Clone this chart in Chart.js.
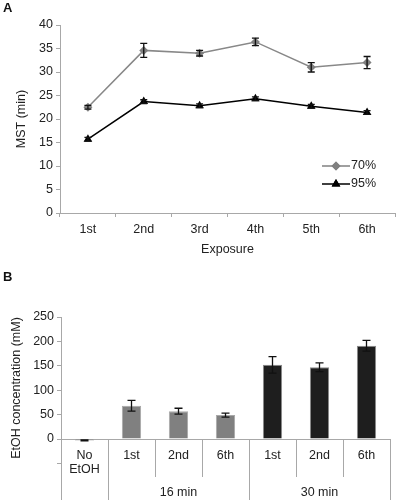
<!DOCTYPE html>
<html>
<head>
<meta charset="utf-8">
<script src="https://cdn.jsdelivr.net/npm/chart.js@4.4.0/dist/chart.umd.min.js"></script>
<style>
    html, body { margin: 0; padding: 0; background: #fff; }
    #wrapA { position: absolute; left: 0; top: 0; width: 400px; height: 260px; }
    #wrapB { position: absolute; left: 0; top: 260px; width: 400px; height: 244px; }
</style>
</head>
<body>
<div id="wrapA"><canvas id="chartA" width="400" height="260"></canvas></div>
<div id="wrapB"><canvas id="chartB" width="400" height="244"></canvas></div>
<script>
// ======================================
// DATA
// ======================================
const exposures = ["1st", "2nd", "3rd", "4th", "5th", "6th"];
const mst70 = [22.5, 34.6, 34.0, 36.4, 31.0, 32.0];
const mst70Err = [0.4, 1.5, 0.6, 0.8, 1.0, 1.3];
const mst95 = [15.7, 23.7, 22.8, 24.3, 22.7, 21.4];
const mst95Err = [0.4, 0.4, 0.4, 0.4, 0.4, 0.4];
const mstTicks = [0, 5, 10, 15, 20, 25, 30, 35, 40];

const etohLabels = [["No", "EtOH"], "1st", "2nd", "6th", "1st", "2nd", "6th"];
const etohGroups = ["16 min", "30 min"];
const etohValues = [-3, 68, 57, 49, 152, 147, 191];
const etohErr = [1, 11, 6, 4, 17, 9, 11];
const etohTicks = [0, 50, 100, 150, 200, 250];

const FONT = "Liberation Sans, Arial, sans-serif";
const TXT = "#222";
const AXIS = "#a8a8a8";

// ======================================
// PLUGINS
// ======================================
const errorBars = {
    id: "errorBars",
    afterDatasetsDraw(chart, args, opts) {
        const c = chart.ctx;
        const ys = chart.scales.y;
        chart.data.datasets.forEach((ds, i) => {
            if (!ds.errors) return;
            const meta = chart.getDatasetMeta(i);
            meta.data.forEach((el, j) => {
                const v = ds.data[j], e = ds.errors[j];
                const x = el.x;
                const t = ys.getPixelForValue(v + e);
                const b = ys.getPixelForValue(v - e);
                const w = opts.cap || 3.5;
                c.save();
                c.strokeStyle = "#111";
                c.lineWidth = 1.3;
                c.beginPath();
                c.moveTo(x, t); c.lineTo(x, b);
                c.moveTo(x - w, t); c.lineTo(x + w, t);
                c.moveTo(x - w, b); c.lineTo(x + w, b);
                c.stroke();
                c.restore();
            });
        });
    }
};

const decorA = {
    id: "decorA",
    afterDraw(chart) {
        const c = chart.ctx;
        const a = chart.chartArea;
        c.save();
        c.fillStyle = "#111";
        c.font = "bold 13px " + FONT;
        c.textBaseline = "alphabetic";
        c.fillText("A", 3, 12);

        c.fillStyle = TXT;
        c.font = "12.5px " + FONT;
        c.textAlign = "center";
        c.textBaseline = "middle";
        c.fillText("Exposure", (a.left + a.right) / 2, 250);
        c.save();
        c.translate(22, (a.top + a.bottom) / 2);
        c.rotate(-Math.PI / 2);
        c.fillText("MST (min)", 0, 0);
        c.restore();

        // legend
        const items = [
            { label: "70%", color: "#808080", style: "rectRot", y: 166 },
            { label: "95%", color: "#000", style: "triangle", y: 184 }
        ];
        items.forEach(it => {
            c.strokeStyle = it.color;
            c.lineWidth = 1.5;
            c.beginPath();
            c.moveTo(322, it.y); c.lineTo(350, it.y);
            c.stroke();
            c.fillStyle = it.color;
            Chart.helpers.drawPoint(c, { pointStyle: it.style, radius: it.style === "triangle" ? 5 : 4.5, borderWidth: 0 }, 336, it.y);
            c.fill();
            c.fillStyle = TXT;
            c.textAlign = "left";
            c.fillText(it.label, 351, it.y);
        });
        c.restore();
    }
};

const decorB = {
    id: "decorB",
    afterDraw(chart) {
        const c = chart.ctx;
        const a = chart.chartArea;
        const xs = chart.scales.x;
        const n = etohLabels.length;
        const step = (a.right - a.left) / n;
        c.save();
        c.fillStyle = "#111";
        c.font = "bold 13px " + FONT;
        c.fillText("B", 3, 21);

        // category table lines
        c.strokeStyle = AXIS;
        c.lineWidth = 1;
        c.beginPath();
        for (let i = 0; i <= n; i++) {
            const x = Math.round(a.left + i * step) + 0.5;
            const long = (i === 0 || i === 1 || i === 4 || i === n);
            c.moveTo(x, a.bottom);
            c.lineTo(x, long ? 240 : 217);
        }
        c.moveTo(a.left - 4, 203.5); c.lineTo(a.left, 203.5);
        c.stroke();

        c.fillStyle = TXT;
        c.font = "12.5px " + FONT;
        c.textAlign = "center";
        c.textBaseline = "middle";
        const gx = [
            (xs.getPixelForTick(1) + xs.getPixelForTick(3)) / 2,
            (xs.getPixelForTick(4) + xs.getPixelForTick(6)) / 2
        ];
        etohGroups.forEach((g, i) => c.fillText(g, gx[i], 233));

        c.save();
        c.translate(17, 128);
        c.rotate(-Math.PI / 2);
        c.fillText("EtOH concentration (mM)", 0, 0);
        c.restore();
        c.restore();
    }
};

// ======================================
// CHART A
// ======================================
new Chart(document.getElementById("chartA"), {
    type: "line",
    data: {
        labels: exposures,
        datasets: [
            {
                label: "70%",
                data: mst70,
                errors: mst70Err,
                borderColor: "#888",
                backgroundColor: "#808080",
                borderWidth: 1.5,
                pointStyle: "rectRot",
                pointRadius: 4.5,
                pointBorderWidth: 0,
                tension: 0
            },
            {
                label: "95%",
                data: mst95,
                errors: mst95Err,
                borderColor: "#000",
                backgroundColor: "#000",
                borderWidth: 1.5,
                pointStyle: "triangle",
                pointRadius: 5,
                pointBorderWidth: 0,
                tension: 0
            }
        ]
    },
    options: {
        responsive: false,
        animation: false,
        layout: { padding: { top: 25, right: 3, left: 0, bottom: 0 } },
        plugins: { legend: { display: false }, tooltip: { enabled: false }, errorBars: { cap: 3.5 } },
        scales: {
            x: {
                offset: true,
                grid: { drawOnChartArea: false, offset: true, tickLength: 4, color: AXIS },
                border: { color: AXIS },
                ticks: { color: TXT, font: { family: FONT, size: 12.5 }, padding: 5 },
                afterFit: s => { s.height = 47; }
            },
            y: {
                min: 0,
                max: 40,
                afterBuildTicks: s => { s.ticks = mstTicks.map(v => ({ value: v })); },
                grid: { drawOnChartArea: false, tickLength: 4, color: AXIS },
                border: { color: AXIS },
                ticks: { color: TXT, font: { family: FONT, size: 12.5 }, padding: 3 },
                afterFit: s => { s.width = 60; }
            }
        }
    },
    plugins: [errorBars, decorA]
});

// ======================================
// CHART B
// ======================================
new Chart(document.getElementById("chartB"), {
    type: "bar",
    data: {
        labels: etohLabels,
        datasets: [
            {
                data: etohValues,
                errors: etohErr,
                backgroundColor: ["#6f6f6f", "#808080", "#808080", "#808080", "#1e1e1e", "#1e1e1e", "#1e1e1e"],
                borderColor: ["#999", "#a8a8a8", "#a8a8a8", "#a8a8a8", "#8a8a8a", "#8a8a8a", "#8a8a8a"],
                borderWidth: 1,
                barPercentage: 0.41,
                categoryPercentage: 1,
                clip: false
            }
        ]
    },
    options: {
        responsive: false,
        animation: false,
        layout: { padding: { top: 57, right: 10, left: 0, bottom: 0 } },
        plugins: { legend: { display: false }, tooltip: { enabled: false }, errorBars: { cap: 4 } },
        scales: {
            x: {
                grid: { display: false, drawTicks: false },
                border: { color: AXIS },
                ticks: { color: TXT, font: { family: FONT, size: 12.5, lineHeight: 1.15 }, padding: 9 },
                afterFit: s => { s.height = 65; }
            },
            y: {
                min: 0,
                max: 250,
                afterBuildTicks: s => { s.ticks = etohTicks.map(v => ({ value: v })); },
                grid: { drawOnChartArea: false, tickLength: 4, color: AXIS },
                border: { color: AXIS },
                ticks: { color: TXT, font: { family: FONT, size: 12.5 }, padding: 3 },
                afterFit: s => { s.width = 61; }
            }
        }
    },
    plugins: [errorBars, decorB]
});
</script>
</body>
</html>
